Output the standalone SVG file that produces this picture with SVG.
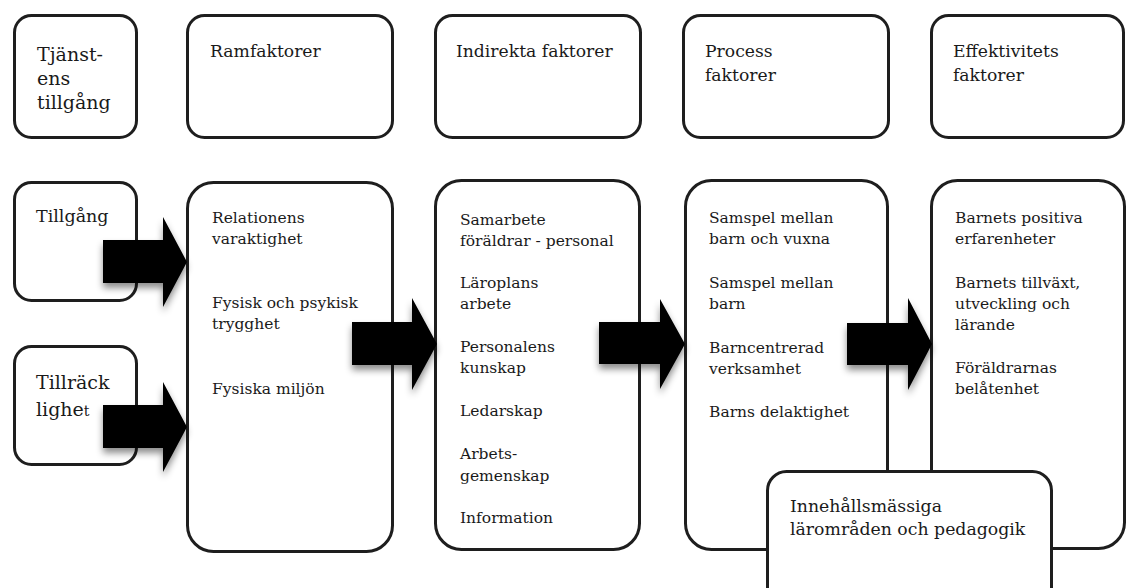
<svg xmlns="http://www.w3.org/2000/svg" width="1126" height="588" viewBox="0 0 1126 588">
<defs>
<filter id="sh" x="-30%" y="-30%" width="160%" height="170%">
<feDropShadow dx="0" dy="5" stdDeviation="3.5" flood-color="#000" flood-opacity="0.45"/>
</filter>
<filter id="bs" x="-5%" y="-5%" width="110%" height="110%">
<feGaussianBlur stdDeviation="0.4"/>
</filter>
</defs>
<style>
.box{fill:#fff;stroke:#1e1e1e;stroke-width:3}
.t{font-family:"DejaVu Serif","Liberation Serif",serif;fill:#1a1a1a}
.b{font-size:15.5px}
.h{font-size:17.2px}
.arr{fill:#000}
</style>
<rect width="1126" height="588" fill="#fff"/>

<g id="n-tjanst">
<rect class="box" x="14.5" y="15.5" width="122" height="122" rx="17"/>
<text class="t" style="font-size:19px" x="37" y="61">Tjänst-</text>
<text class="t" style="font-size:19px" x="37" y="85">ens</text>
<text class="t" style="font-size:19px" x="37" y="109">tillgång</text>
</g>
<g id="n-ram-top">
<rect class="box" x="187.5" y="15.5" width="205" height="122" rx="17"/>
<text class="t h" x="210" y="57">Ramfaktorer</text>
</g>
<g id="n-ind-top">
<rect class="box" x="435.5" y="15.5" width="205" height="122" rx="17"/>
<text class="t h" x="456" y="57">Indirekta faktorer</text>
</g>
<g id="n-proc-top">
<rect class="box" x="683.5" y="15.5" width="205" height="122" rx="17"/>
<text class="t h" x="705" y="57">Process</text>
<text class="t h" x="705" y="81">faktorer</text>
</g>
<g id="n-eff-top">
<rect class="box" x="931.5" y="15.5" width="192" height="122" rx="17"/>
<text class="t h" x="953" y="57">Effektivitets</text>
<text class="t h" x="953" y="81">faktorer</text>
</g>

<g id="n-tillgang">
<rect class="box" x="14.5" y="182.5" width="122" height="118" rx="17"/>
<text class="t" style="font-size:17.5px" x="36" y="222">Tillgång</text>
</g>
<g id="n-tillracklighet">
<rect class="box" x="14.5" y="346.5" width="122" height="118" rx="17"/>
<text class="t" style="font-size:19px" x="36" y="389">Tillräck</text>
<text class="t" style="font-size:19px" x="36" y="416">lighe<tspan style="font-size:14px">t</tspan></text>
</g>

<g id="n-ram">
<rect class="box" x="187.5" y="182.5" width="205" height="369" rx="26"/>
<text class="t b" x="212" y="223">Relationens</text>
<text class="t b" x="212" y="244">varaktighet</text>
<text class="t b" x="212" y="308">Fysisk och psykisk</text>
<text class="t b" x="212" y="329">trygghet</text>
<text class="t b" x="212" y="394">Fysiska miljön</text>
</g>
<g id="n-ind">
<rect class="box" x="435.5" y="180.5" width="204" height="369" rx="26"/>
<text class="t b" x="460" y="225">Samarbete</text>
<text class="t b" x="460" y="246">föräldrar - personal</text>
<text class="t b" x="460" y="288">Läroplans</text>
<text class="t b" x="460" y="309">arbete</text>
<text class="t b" x="460" y="352">Personalens</text>
<text class="t b" x="460" y="373">kunskap</text>
<text class="t b" x="460" y="416">Ledarskap</text>
<text class="t b" x="460" y="459">Arbets-</text>
<text class="t b" x="460" y="481">gemenskap</text>
<text class="t b" x="460" y="523">Information</text>
</g>
<g id="n-proc">
<rect class="box" x="685.5" y="180.5" width="202" height="369" rx="26"/>
<text class="t b" x="709" y="223">Samspel mellan</text>
<text class="t b" x="709" y="244">barn och vuxna</text>
<text class="t b" x="709" y="288">Samspel mellan</text>
<text class="t b" x="709" y="309">barn</text>
<text class="t b" x="709" y="353">Barncentrerad</text>
<text class="t b" x="709" y="374">verksamhet</text>
<text class="t b" x="709" y="417">Barns delaktighet</text>
</g>
<g id="n-eff">
<rect class="box" x="931.5" y="180.5" width="193" height="368" rx="26"/>
<text class="t b" x="955" y="223">Barnets positiva</text>
<text class="t b" x="955" y="244">erfarenheter</text>
<text class="t b" x="955" y="288">Barnets tillväxt,</text>
<text class="t b" x="955" y="309">utveckling och</text>
<text class="t b" x="955" y="330">lärande</text>
<text class="t b" x="955" y="373">Föräldrarnas</text>
<text class="t b" x="955" y="394">belåtenhet</text>
</g>
<g id="n-innehall">
<rect class="box" x="767.5" y="471.5" width="284" height="140" rx="19"/>
<text class="t" style="font-size:17.3px" x="790" y="512">Innehållsmässiga</text>
<text class="t" style="font-size:17.3px" x="790" y="535">lärområden och pedagogik</text>
</g>

<g id="connectors">
<polygon class="arr" filter="url(#sh)" points="103,240 163,240 163,217 187,262 163,307 163,283 103,283"/>
<polygon class="arr" filter="url(#sh)" points="103,405 163,405 163,382 187,427 163,472 163,448 103,448"/>
<polygon class="arr" filter="url(#sh)" points="352,322 412,322 412,298 437,344 412,390 412,365 352,365"/>
<polygon class="arr" filter="url(#sh)" points="599,322 660,322 660,299 685,344 660,389 660,364 599,364"/>
<polygon class="arr" filter="url(#sh)" points="847,323 908,323 908,298 932,344 908,390 908,365 847,365"/>
</g>
</svg>
